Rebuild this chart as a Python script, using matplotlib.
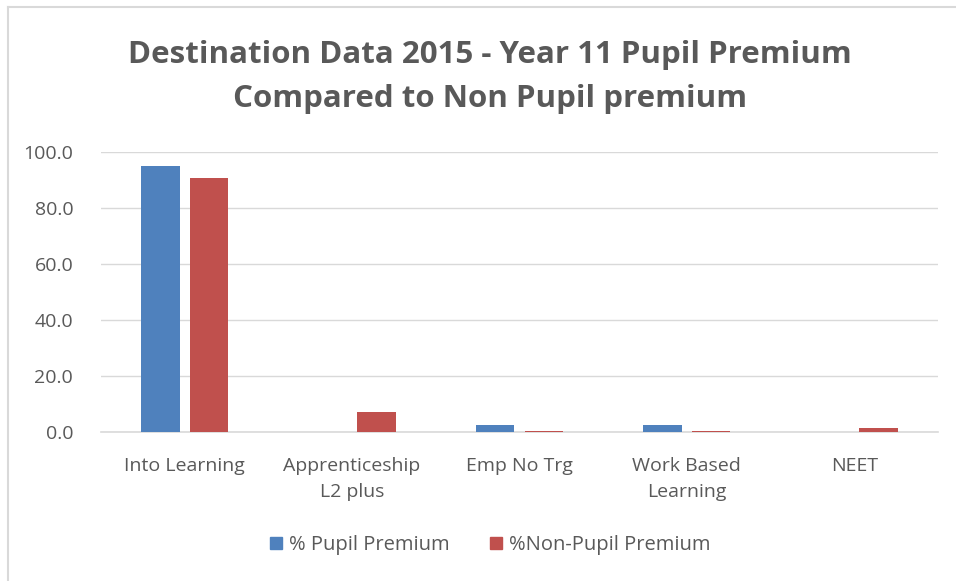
import matplotlib
matplotlib.use("Agg")
import matplotlib.pyplot as plt
from matplotlib.lines import Line2D
from matplotlib.patches import Patch
import numpy as np

categories = ["Into Learning", "Apprenticeship\nL2 plus", "Emp No Trg", "Work Based\nLearning", "NEET"]
pupil_premium = [95.0, 0.0, 2.5, 2.5, 0.0]
non_pupil_premium = [90.7, 7.1, 0.4, 0.4, 1.4]
series_names = ["% Pupil Premium", "%Non-Pupil Premium"]
yticks = [0, 20, 40, 60, 80, 100]

W, H = 956, 581
fig = plt.figure(figsize=(W/100, H/100), dpi=100)
font = ["Open Sans", "DejaVu Sans"]
txt = "#595959"
blue = "#4F81BD"
red = "#C0504D"

ax = fig.add_axes([101/W, (H-432)/H, (938-101)/W, (432-152)/H])
x = np.arange(len(categories))
w = 0.23
off = 0.145
ax.bar(x - off, pupil_premium, width=w, color=blue, zorder=3)
ax.bar(x + off, non_pupil_premium, width=w, color=red, zorder=3)
ax.set_xlim(-0.5, len(categories) - 0.5)
ax.set_ylim(0, 100)
ax.set_yticks(yticks)
ax.set_yticklabels([f"{v:.1f}" for v in yticks], fontfamily=font, fontsize=14, color=txt)
ax.set_xticks(x)
ax.set_xticklabels(categories, fontfamily=font, fontsize=14, color=txt, linespacing=1.6)
ax.tick_params(length=0)
ax.tick_params(axis="x", pad=18)
ax.tick_params(axis="y", pad=20)
ax.grid(axis="y", color="#D9D9D9", linewidth=1, zorder=0)
for s in ["top", "right", "left"]:
    ax.spines[s].set_visible(False)
ax.spines["bottom"].set_color("#D9D9D9")
ax.spines["bottom"].set_linewidth(1.2)

fig.text(490/W, 1 - 77/H, "Destination Data 2015 - Year 11 Pupil Premium\nCompared to Non Pupil premium",
         ha="center", va="center", fontfamily=font, fontsize=22.5, fontweight="bold", color=txt, linespacing=1.6)

handles = [Patch(color=blue), Patch(color=red)]
fig.legend(handles, series_names, loc="center", bbox_to_anchor=(490/W, 1 - 545/H), ncol=2,
           frameon=False, prop={"family": font, "size": 14.5}, labelcolor=txt,
           handlelength=0.6, handleheight=0.6, handletextpad=0.35, columnspacing=2.0)

fig.add_artist(Line2D([8/W, 8/W], [0, 1 - 7/H], color="#D9D9D9", linewidth=1.5, transform=fig.transFigure))
fig.add_artist(Line2D([8/W, 1], [1 - 7/H, 1 - 7/H], color="#D9D9D9", linewidth=1.5, transform=fig.transFigure))

fig.savefig("out.png", dpi=100, facecolor="white")
